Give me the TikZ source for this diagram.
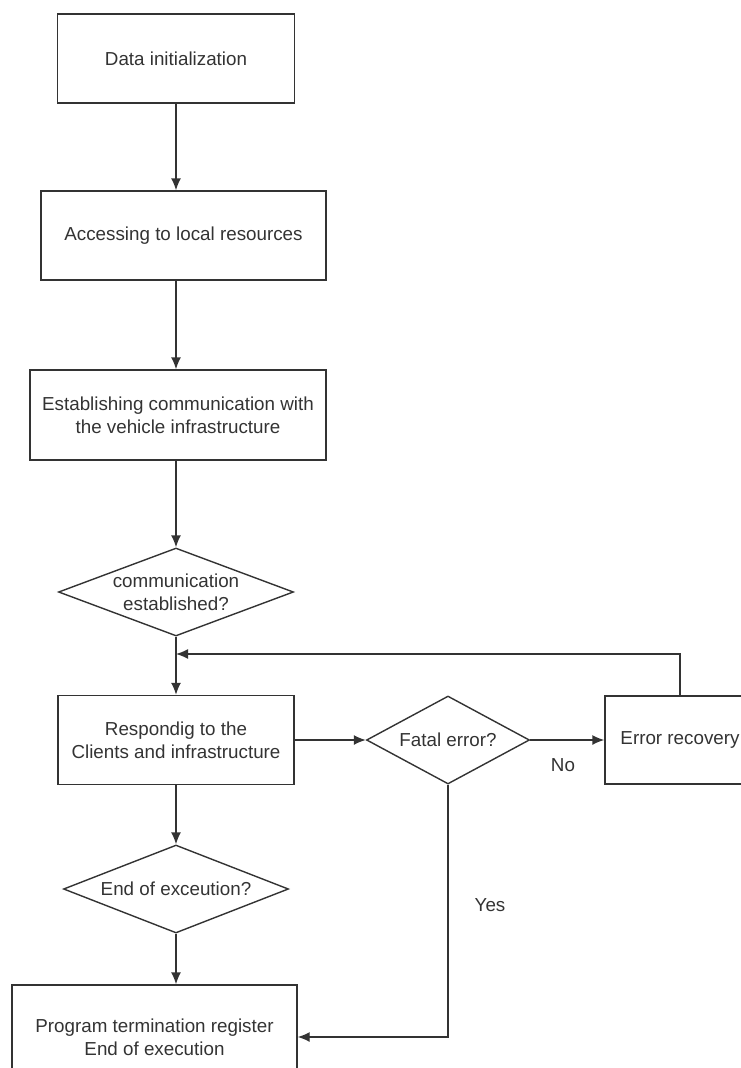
\documentclass[tikz,border=0pt]{standalone}
\usepackage{fontspec}
\setmainfont{Liberation Sans}
\usetikzlibrary{arrows.meta,shapes.geometric}

\begin{document}
\begin{tikzpicture}[>={Latex[length=12pt,width=10pt]},x=1pt,y=-1pt,line width=1.4pt,color=black!80,
  every node/.style={font=\fontsize{18.8}{23}\selectfont,align=center},
  stepbox/.style={draw,rectangle,inner sep=0pt,minimum height=89pt},
  test/.style={draw,diamond,inner sep=0pt,minimum height=88pt}]
\useasboundingbox (0,0) rectangle (741,1068);
\clip (0,0) rectangle (741,1068);
\node[stepbox,minimum width=237pt] (init) at (176,58.5) {Data initialization};
\node[stepbox,minimum width=285pt] (local) at (183.5,235.5) {Accessing to local resources};
\node[stepbox,minimum width=296pt,minimum height=90pt] (link) at (178,415) {Establishing communication with\\the vehicle infrastructure};
\node[test,minimum width=235pt,aspect=2.67] (estab) at (176,592) {communication\\established?};
\node[stepbox,minimum width=236pt] (respond) at (176,740) {Respondig to the\\Clients and infrastructure};
\node[test,minimum width=163pt,aspect=1.85] (fatal) at (448,740) {Fatal error?};
\node[stepbox,minimum width=150pt,minimum height=88pt] (recover) at (680,740) {Error recovery};
\node[test,minimum width=225pt,aspect=2.56] (endq) at (176,889) {End of exceution?};
\node[stepbox,minimum width=285pt,minimum height=104pt] (term) at (154.5,1037) {Program termination register\\End of execution};
\node (no) at (563,765) {No};
\node (yes) at (490,905) {Yes};
\coordinate (join) at (176,654);
\draw[->] (init.south) -- (init.south |- local.north);
\draw[->] (init.south |- local.south) -- (init.south |- link.north);
\draw[->] (init.south |- link.south) -- (estab.north);
\draw[->] (estab.south) -- (respond.north);
\draw[->] (recover.north) |- (join);
\draw[->] (respond.east) -- (fatal.west);
\draw[->] (fatal.east) -- (recover.west);
\draw[->] (respond.south) -- (endq.north);
\draw[->] (endq.south) -- (endq.south |- term.north);
\draw[->] (fatal.south) |- (term.east);
\end{tikzpicture}
\end{document}
